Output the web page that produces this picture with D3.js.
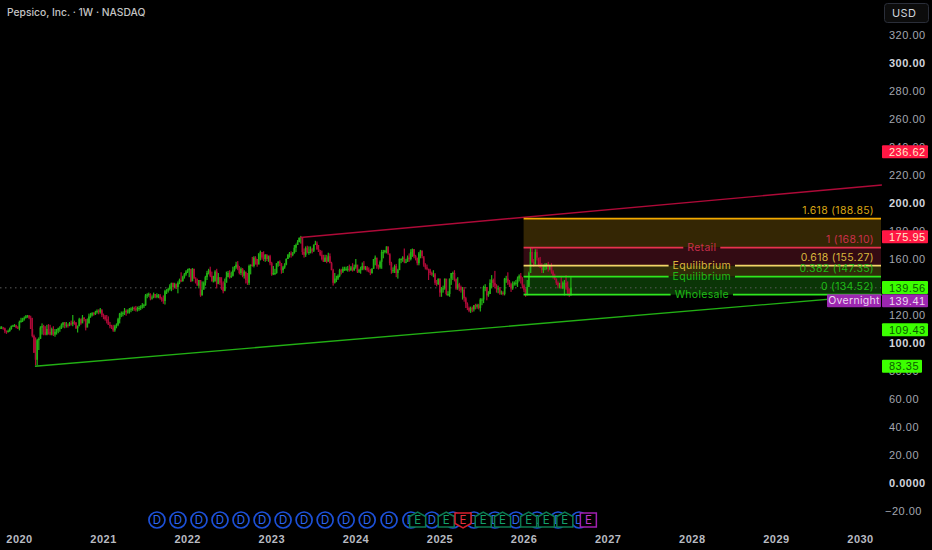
<!DOCTYPE html>
<html>
<head>
<meta charset="utf-8">
<title>Pepsico, Inc. 1W</title>
<script src="https://cdn.jsdelivr.net/npm/d3@7"></script>
<style>
    html, body { margin: 0; background: #000; }
    svg { display: block; font-family: Inter, "Noto Sans", sans-serif; }
    .axis path, .axis line { display: none; }
</style>
</head>
<body>
<div id="chart"></div>
<script>
// weekly candles (open = previous close)
const closes = [
    111,111,110.5,108.5,108,108.5,110,112,112.5,112.5,
    111,110.5,115,116,117,118,119,119.5,118,110,
    105,93,88,102,103,111,112,108,106,110,
    108,106,110,106,108,109,110.5,111,113,114.5,
    113,113,112.5,114,113.5,115,114.5,110.5,112,117,
    114,118,117,111,114,119,120,121.5,120.5,122,
    123,122,124,120,119,117,115.5,113,112,111,
    109,112,113,117,121,121,121.5,123,122,122.5,
    124,124.5,125,124.5,124,125,125,126,127,127,
    134,134.5,135,132,132.5,135,133,134,134,132,
    131,130,137,137.5,138.5,141,143,140,142,140,
    143,145,144,147,149,151,152,153,144,153,
    146,143,141,145,134,138,143,147,150,152,
    148,144,144,151,142,147,143,140,137,143,
    147,150,147,148,152,154,156,153,150,153,
    148,151,145,143,155,156,155,161,160,156,
    164,165,161,160,163,160,162,157,149,150,
    150,157,158,157,152,154,156,160,163,164,
    163,164,168,170,172,175,175.5,165,163,168,
    165,165,167,166,170,171,167,165,163,160,
    158,161,158,162,157,152,143,146,146,148,
    152,151,153,153,153,153,152,154,152,154,
    156,151,152,153,155,153,154,152,151,150,
    153,160,161,155,154,158,165,165,166,169,
    164,157,152,152,155,150,152,160,160,161,
    158,158,161,160,165,167,162,161,157,164,
    166,162,156,154,153,152,150,149,149,
    143,142,146,136,139,139,146,135,135,146,
    150,150,146,139,142,140,138,138,132,128,
    125,123,125,124,127,126,127,125,131,131,
    140,140,134,135,143,145,143,141,139,139,
    136,136,135,146,146,144,142,139,142,143,
    143,146,148,146,141,138,135,140,150,165,
    158,156,165,161,156,154,152,155,155,156,
    153,155,151,148,146,143,141,141,139,143,
    143,140,136,134,139.56
];
const highs = [
    112,112,111.5,111,109,109.5,111,112.5,113,113.5,
    113,112,116,118,118,119,120,120,120,119.5,
    118,106,104,103,104,112,114,113,112,113,
    113.5,113,111,112,110,110,111,112,114,115,
    115,115,114,115,116,120,116,115,112.5,118,
    117.5,120,118.5,117,117.5,121,121.5,122,122,123,
    124,124,125,123,121,120,120,119,115,113,
    113,113,114,118,121.5,122.5,122.5,125,124,124,
    125,125.5,126,126,126.5,126,126.5,127,128.5,128,
    135,135.5,136,135.5,134,136,135,135.5,135,135,
    133,134,138,138.5,139.5,142,143,143,143,142.5,
    144,146,150.5,148,150,152,153,153.5,152,153.5,
    153,147,146,145,144,144,144,148,151.5,153,
    154.5,151,148,152,153,150,147,147,144,146,
    151,151.5,152,151,154.5,155,158,158.5,155,154,
    153.5,152,150,150,156,156,161.5,162,162,160,
    164,166,164,165.5,163.5,163.5,162.5,163,158,155,
    153,157,158.5,159,157,155,157,160.5,163.5,165,
    165.5,165,170,171,173.5,175.5,176.5,172,167.5,169,
    169.5,169,169,168,170.5,173,172.5,170,166.5,166,
    163,163,163,164.5,164,158,153,150,148,149,
    153,153,154.5,154.5,154.5,155,156,155,157,156,
    160,155,153,154.5,157.5,158.5,155,155,154,153,
    153.5,160,162.5,159,156,159,166.5,166.5,166.5,169,
    167.5,163,158,154,156,156.5,153,160.5,160.5,162,
    167.5,160,162.5,164,167,167.5,167,163,160.5,165,
    166.5,166,160.5,157,156,153,153,151,152,
    150,145,146,146,140,141,146,143,137,146,
    150,151,152,145,147,143,141,140,140,133,
    129,126,126,126,127,128,128,128,132,132,
    141,142,140,137,145.5,148.5,146,151.5,142,141,
    140,137.5,137,146.5,148,150.5,145,143,144,144,
    145,147.5,149,150,147,142,139,145,151,168,
    168,160,167,167,160.5,161.5,157,156,157,157,
    158,156,157,152,149.5,146,144,143,148,144,
    145,148.5,144,139,147
];
const lows = [
    110,110,109.5,107,106.5,107.5,108,109.5,111.5,111.5,
    110.5,110,109,114.5,115,116,117.5,118,117,110,
    104,93,84,84,95,103,106,105.5,105.5,105.5,
    106,105.5,105.5,105,104.5,106,107,108,110,111,
    110.5,111,111,112,112.5,112,113,110,107.5,112,
    113,115,115.5,109,113,114,118,119,119.5,120,
    121,120.5,121,118.5,117,116,114,113,110.5,110,
    108,108,110.5,112,114,118.5,119,120,119.5,121,
    121,122,123,123,122.5,122.5,123,123.5,124.5,125,
    126.5,132,133,130.5,131,132,132,132,132,131,
    129.5,128,127.5,135,136,137.5,137,138,139,138.5,
    135.5,142,143.5,144,146,148,150,147,143.5,146,
    146,142.5,141,139,133,134,139,141,145,149,
    147,144,143.5,144,139,142.5,141.5,138,135.5,138,
    143.5,147,146,146.5,147.5,151,153,152,149,148.5,
    147,146,142.5,141.5,141.5,149,154.5,154,156,154.5,
    160,159,159.5,158.5,158,158.5,158,155.5,148,148.5,
    148.5,149.5,154.5,155,149.5,150,153,155.5,160,161,
    161,162,164,165,170,172,171,163,161,161.5,
    164,163,164,164,165,170,166.5,165,162,159,
    158,158,157,158.5,157,152,141,142.5,143.5,145,
    147,149,150,151.5,151.5,151,151,151.5,151,151.5,
    153,150,150,149.5,152,152,152,151,150.5,148.5,
    149.5,153,155.5,153,152.5,153,153,160.5,164,164,
    163,155.5,149.5,150,150,147,146,153,157,158,
    157,157,158,158,159,161.5,160.5,159,155.5,155.5,
    160.5,160.5,154.5,152.5,152,145,148.5,148,147,
    141.5,140.5,141.5,133,133,136,138,134,133.5,133,
    141.5,145,144,138,138,137,136,131,129.5,125,
    123.5,122,121.5,122,122.5,124,124.5,124,122.5,127,
    128.5,137,130.5,133,135,139,140,139,136,135.5,
    134.5,134.5,134,134,143,141.5,140,136.5,138,141,
    141,140,144,142.5,139,136.5,133,134,141.5,151,
    157,154.5,160,159,154.5,153.5,150,150,152,152.5,
    151,152,149.5,146,145,141.5,139,139,139,138.5,
    134,138,134,133,134
];

// trend lines as [year, price]
const resistanceLine = [[2023.345, 175.4], [2030.26, 212.9]];
const supportLine = [[2020.19, 83.35], [2030.26, 134.5]];

// fib box
const fibStart = 2026;
const fibEnd = 2030.26;
const fibLevels = ['1.618', '1', '0.618', '0.382', '0'];
const fibPrices = [188.85, 168.10, 155.27, 147.35, 134.52];
const fibLineColors = ['#f2a900', '#e8324e', '#f2d768', '#2ee81e', '#2ee81e'];
const fibTextColors = ['#d9a514', '#c9304a', '#d9b83c', '#1fbb16', '#1fbb16'];
const fibBandColors = ['#342604', '#330b13', '#302d09', '#0b3507'];
const fibLineNames = ['', 'Retail', 'Equilibrium', 'Equilibrium', 'Wholesale'];

const lastPrice = 139.4;
const priceTicks = [320, 300, 280, 260, 240, 220, 200, 180, 160, 140, 120, 100, 80, 60, 40, 20, 0, -20];
const boldTicks = [300, 200, 100, 0];
const yearTicks = [2020, 2021, 2022, 2023, 2024, 2025, 2026, 2027, 2028, 2029, 2030];

// price tags on the right
const tagPrices = [236.62, 175.95, 139.56, 109.43, 83.35];
const tagFills = ['#ff1744', '#ff1744', '#3cff00', '#3cff00', '#3cff00'];
const tagTexts = ['#ffe9c8', '#ffe9c8', '#0b5c00', '#0b5c00', '#0b5c00'];

// events along the bottom
const dividendYears = [2021.64, 2021.89, 2022.14, 2022.39, 2022.64, 2022.89, 2023.14, 2023.39, 2023.64, 2023.89,
    2024.14, 2024.40, 2024.66, 2024.91, 2025.16, 2025.41, 2025.66, 2025.91, 2026.16, 2026.41, 2026.66];
const earningsYears = [2024.74, 2025.08, 2025.52, 2025.75, 2026.06, 2026.27, 2026.49];
const missedEarningsYears = [2025.28];
const nextEarningsYears = [2026.77];

const width = 932, height = 550;
const plotRight = 881;
const firstBarYear = 2019.774;

const svg = d3.select('#chart').append('svg')
    .attr('width', width).attr('height', height)
    .style('background', '#000');

const x = d3.scaleLinear().domain([2020, 2030]).range([19, 860]);
const y = d3.scaleLinear().domain([0, 320]).range([483, 35]);
const barX = i => x(firstBarYear + i / 52);

const GREEN = '#22b014', RED = '#ae0a38';
const AXIS_FONT = 'sans-serif';

// --- fib bands ---
svg.append('g').selectAll('rect')
    .data(fibBandColors)
    .join('rect')
    .attr('x', x(fibStart))
    .attr('width', plotRight - x(fibStart))
    .attr('y', (d, i) => y(fibPrices[i]))
    .attr('height', (d, i) => y(fibPrices[i + 1]) - y(fibPrices[i]))
    .attr('fill', d => d);

// --- last price line ---
svg.append('line')
    .attr('x1', 0).attr('x2', plotRight)
    .attr('y1', y(lastPrice)).attr('y2', y(lastPrice))
    .attr('stroke', '#5c5c5c').attr('stroke-dasharray', '1.5 3.5');

// --- candles ---
const candles = svg.append('g').selectAll('g')
    .data(closes)
    .join('g')
    .attr('fill', (c, i) => (i === 0 || c >= closes[i - 1]) ? GREEN : RED);
candles.append('rect')
    .attr('x', (c, i) => barX(i) - 0.6)
    .attr('width', 1.2)
    .attr('y', (c, i) => y(highs[i]))
    .attr('height', (c, i) => y(lows[i]) - y(highs[i]));
candles.append('rect')
    .attr('x', (c, i) => barX(i) - 0.85)
    .attr('width', 1.7)
    .attr('y', (c, i) => y(Math.max(c, i ? closes[i - 1] : c)))
    .attr('height', (c, i) => Math.max(1, Math.abs(y(c) - y(i ? closes[i - 1] : c))));

// --- trend lines ---
const trend = d3.line().x(d => x(d[0])).y(d => y(d[1]));
svg.append('path').attr('d', trend(resistanceLine))
    .attr('fill', 'none').attr('stroke', '#ae0a38').attr('stroke-width', 1.4);
svg.append('path').attr('d', trend(supportLine))
    .attr('fill', 'none').attr('stroke', '#22b014').attr('stroke-width', 1.4);

// --- fib lines, split around their names ---
const fibGroup = svg.append('g').style('font-size', '10.5px').style('letter-spacing', '0.3px');
const fibMid = (x(fibStart) + plotRight) / 2 - 0.5;
fibPrices.forEach((p, i) => {
    let gap = 0;
    if (fibLineNames[i]) {
        const t = fibGroup.append('text')
            .attr('x', fibMid).attr('y', y(p))
            .attr('text-anchor', 'middle').attr('dy', '0.36em')
            .attr('fill', fibTextColors[i])
            .text(fibLineNames[i]);
        gap = t.node().getComputedTextLength() / 2 + 4;
    }
    const segs = gap ? [[x(fibStart), fibMid - gap], [fibMid + gap, plotRight]] : [[x(fibStart), plotRight]];
    segs.forEach(s => fibGroup.append('line')
        .attr('x1', s[0]).attr('x2', s[1])
        .attr('y1', y(p)).attr('y2', y(p))
        .attr('stroke', fibLineColors[i]).attr('stroke-width', 1.8));
    fibGroup.append('text')
        .attr('x', 874).attr('y', y(p) - 8)
        .attr('text-anchor', 'end').attr('dy', '0.36em')
        .attr('fill', fibTextColors[i])
        .text(`${fibLevels[i]} (${p.toFixed(2)})`);
});

// --- axes ---
const yAxis = d3.axisRight(y)
    .tickValues(priceTicks)
    .tickSize(0).tickPadding(0)
    .tickFormat(d => d === 0 ? '0.0000' : d < 0 ? '\u2212' + Math.abs(d).toFixed(2) : d.toFixed(2));
const yG = svg.append('g').attr('class', 'axis')
    .attr('transform', 'translate(889,0)')
    .call(yAxis);
yG.selectAll('text')
    .style('font-size', '11px').style('letter-spacing', '0.5px')
    .attr('fill', d => boldTicks.includes(d) ? '#d1d4dc' : '#a3a6af')
    .style('font-weight', d => boldTicks.includes(d) ? 700 : 400)
    .attr('x', d => d < 0 ? -4 : 0);

const xAxis = d3.axisBottom(x)
    .tickValues(yearTicks)
    .tickSize(0).tickPadding(0)
    .tickFormat(d3.format('d'));
const xG = svg.append('g').attr('class', 'axis')
    .attr('transform', 'translate(0,535)')
    .call(xAxis);
xG.selectAll('text')
    .style('font-size', '11px').style('letter-spacing', '0.5px').style('font-weight', 600)
    .attr('fill', '#b8bbc2');

// --- price tags ---
const tags = svg.append('g')
    .attr('font-family', AXIS_FONT)
    .selectAll('g')
    .data(tagPrices)
    .join('g')
    .attr('transform', d => `translate(882,${y(d)})`);
tags.append('rect')
    .attr('y', -6.5).attr('height', 13).attr('rx', 1)
    .attr('width', d => d < 100 ? 40 : 46)
    .attr('fill', (d, i) => tagFills[i]);
tags.append('text')
    .attr('x', 7).attr('dy', '0.36em')
    .style('font-family', AXIS_FONT)
    .style('font-size', '11px').style('letter-spacing', '0.5px')
    .attr('fill', (d, i) => tagTexts[i])
    .text(d => d.toFixed(2));

// overnight tag sits below the 139.56 tag
const overnight = svg.append('g').attr('transform', 'translate(0,300.7)');
overnight.append('rect')
    .attr('x', 827).attr('y', -6.5).attr('width', 54).attr('height', 13).attr('rx', 1)
    .attr('fill', '#9c27b0');
overnight.append('rect')
    .attr('x', 882).attr('y', -6.5).attr('width', 46).attr('height', 13).attr('rx', 1)
    .attr('fill', '#9c27b0');
overnight.append('text')
    .attr('x', 854).attr('dy', '0.36em').attr('text-anchor', 'middle')
    .style('font-size', '10.5px').style('letter-spacing', '0.3px')
    .attr('fill', '#ecd6f0').text('Overnight');
overnight.append('text')
    .attr('x', 889).attr('dy', '0.36em')
    .style('font-family', AXIS_FONT)
    .style('font-size', '11px').style('letter-spacing', '0.5px')
    .attr('fill', '#ecd6f0').text('139.41');

// --- dividend and earnings markers ---
const markers = svg.append('g').style('font-size', '11.5px').attr('text-anchor', 'middle');
const dividends = markers.selectAll('g.div')
    .data(dividendYears).join('g').attr('class', 'div')
    .attr('transform', d => `translate(${x(d)},520)`);
dividends.append('circle').attr('r', 8)
    .attr('fill', '#000').attr('stroke', '#1c50d8').attr('stroke-width', 1.7);
dividends.append('text').attr('dy', '0.36em').attr('fill', '#2f68ef').text('D');

const house = 'M-8,-3.5L0,-8L8,-3.5L8,7L-8,7Z';
const drawEarnings = (data, shape, stroke, text) => {
    const g = markers.selectAll(null).data(data).join('g')
        .attr('transform', d => `translate(${x(d)},520)`);
    g.append('path').attr('d', shape)
        .attr('fill', '#000').attr('stroke', stroke).attr('stroke-width', 1.5);
    g.append('text').attr('dy', '0.36em').attr('fill', text).text('E');
};
drawEarnings(earningsYears, house, '#0c7a50', '#14a06c');
drawEarnings(missedEarningsYears, 'M-8,-7L8,-7L8,3.5L0,8L-8,3.5Z', '#d81e2c', '#e8323e');
drawEarnings(nextEarningsYears, 'M-8,-7L8,-7L8,7L-8,7Z', '#a01fb0', '#c035d0');

// --- header ---
svg.append('text')
    .attr('x', 7).attr('y', 16)
    .style('font-size', '10.3px').style('font-weight', 500)
    .attr('fill', '#c4c4c4')
    .text('Pepsico, Inc. \u00b7 1W \u00b7 NASDAQ');

svg.append('rect')
    .attr('x', 884.5).attr('y', 3.5).attr('width', 44).attr('height', 19).attr('rx', 3)
    .attr('fill', '#0c0c0c').attr('stroke', '#2a2e39');
svg.append('text')
    .attr('x', 892).attr('y', 17)
    .style('font-size', '11px').style('letter-spacing', '0.4px')
    .attr('fill', '#d1d4dc')
    .text('USD');
</script>
</body>
</html>
